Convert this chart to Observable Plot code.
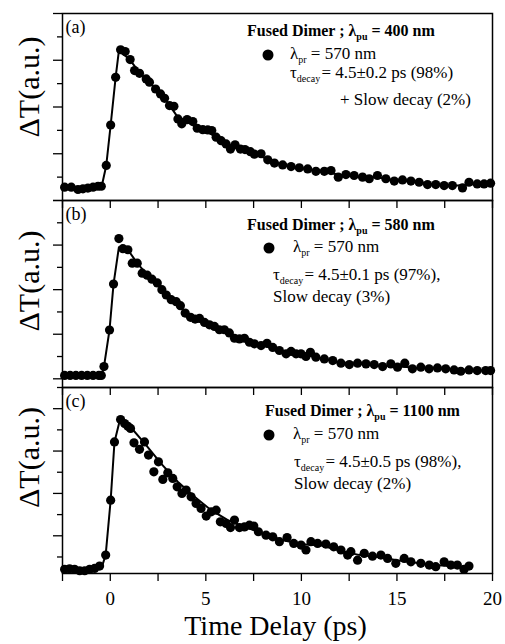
<!DOCTYPE html>
<html><head><meta charset="utf-8">
<script src="https://cdn.jsdelivr.net/npm/d3@7"></script>
<script src="https://cdn.jsdelivr.net/npm/@observablehq/plot@0.6"></script>
<style>
html,body{margin:0;padding:0;background:#fff;}
#chart{width:505px;height:644px;}
#chart svg{display:block;overflow:visible;}
#chart svg text.legend{font-family:"Liberation Serif","Times New Roman",serif;}
</style></head><body><div id="chart"></div>
<script>
// ---------- data ----------
const xTicks = [-2.5, 0, 2.5, 5, 7.5, 10, 12.5, 15, 17.5, 20];
const xTickLabels = ["0", "5", "10", "15", "20"];

const timeA = [-2.39,-2.04,-1.69,-1.43,-1.17,-0.9,-0.64,-0.47,-0.21,0.02,0.28,0.54,0.78,1.04,1.27,1.53,1.88,2.05,2.37,2.63,2.84,3.1,3.33,3.54,3.74,4.02,4.32,4.55,4.84,5.1,5.31,5.54,5.8,6.06,6.29,6.53,6.81,7.05,7.33,7.54,7.89,8.24,8.59,9.02,9.46,9.89,10.33,10.76,11.2,11.55,11.93,12.33,12.76,13.2,13.55,13.98,14.42,14.86,15.29,15.73,16.16,16.6,17.03,17.47,17.9,18.43,18.77,19.2,19.56,19.9];
const valA = [0.57,0.57,0.47,0.5,0.53,0.57,0.61,0.61,1.5,3.23,5.27,6.45,6.37,6.03,5.56,5.44,5.2,5.06,4.77,4.56,4.37,4.06,4.03,3.49,3.28,3.46,3.38,3.09,3.03,3.02,2.99,2.71,2.56,2.42,2.2,2.38,2.2,2.18,2.09,1.98,2.0,1.74,1.6,1.52,1.45,1.4,1.35,1.25,1.25,1.28,1.0,1.11,1.07,1.0,0.93,1.07,0.93,0.83,0.88,0.83,0.78,0.68,0.68,0.64,0.64,0.54,0.78,0.71,0.71,0.74];
const fitTimeA = [-2.5,-0.45,-0.21,0.02,0.28,0.45,1.0,1.5,2.0,2.5,3.0,3.5,4.0,4.5,5.0,5.5,6.0,6.5,7.0,7.5,8.0,9,10,11,12,13,14,15,16,17,18,19,20];
const fitValA = [0.55,0.6,1.5,3.23,5.27,6.4,6.05,5.5,5.1,4.65,4.2,3.6,3.4,3.12,3.0,2.72,2.45,2.3,2.18,2.0,1.85,1.52,1.38,1.25,1.1,1.02,0.98,0.86,0.8,0.68,0.63,0.7,0.73];

const timeB = [-2.39,-2.1,-1.8,-1.5,-1.2,-0.9,-0.6,-0.47,-0.33,-0.04,0.17,0.45,0.66,0.92,1.15,1.41,1.67,1.93,2.18,2.46,2.7,2.93,3.19,3.45,3.67,3.92,4.2,4.44,4.67,4.93,5.19,5.45,5.71,5.97,6.23,6.5,6.76,7.02,7.28,7.54,7.89,8.2,8.5,8.85,9.2,9.46,9.72,9.98,10.24,10.47,10.76,11.2,11.64,12.07,12.51,12.94,13.38,13.81,14.25,14.68,15.03,15.41,15.81,16.25,16.68,17.12,17.55,17.99,18.34,18.77,19.2,19.64,19.9];
const valB = [0.15,0.15,0.15,0.15,0.15,0.15,0.15,0.15,0.55,2.19,4.25,6.29,5.84,5.79,5.19,5.19,4.74,4.65,4.47,4.3,4.0,3.76,3.55,3.46,3.28,2.95,2.76,2.68,2.71,2.53,2.42,2.35,2.2,2.2,2.06,1.82,1.79,1.82,1.64,1.57,1.49,1.59,1.41,1.27,1.12,1.23,1.12,1.12,1.0,1.19,0.97,0.89,0.82,0.7,0.64,0.7,0.67,0.64,0.55,0.67,0.52,0.7,0.45,0.52,0.45,0.49,0.45,0.4,0.34,0.4,0.37,0.37,0.37];
const fitTimeB = [-2.5,-0.45,-0.33,-0.04,0.17,0.45,0.92,1.41,2.0,2.5,3.0,3.5,4.0,4.5,5.0,5.5,6.0,6.5,7.0,7.5,8.0,9,10,11,12,13,14,15,16,17,18,19,20];
const fitValB = [0.15,0.15,0.55,2.19,4.25,5.9,5.79,5.19,4.6,4.25,3.7,3.4,2.9,2.68,2.5,2.33,2.18,1.85,1.8,1.58,1.5,1.2,1.1,0.93,0.72,0.68,0.6,0.56,0.5,0.47,0.42,0.38,0.37];

const timeC = [-2.39,-2.13,-1.87,-1.6,-1.34,-1.08,-0.82,-0.56,-0.24,0.02,0.22,0.54,0.75,0.92,1.06,1.24,1.53,1.79,2.0,2.28,2.52,2.75,3.01,3.27,3.5,3.75,3.97,4.23,4.49,4.75,5.02,5.28,5.54,5.76,6.06,6.29,6.5,6.76,7.02,7.28,7.51,7.75,8.15,8.5,8.85,9.25,9.6,9.98,10.24,10.5,10.85,11.28,11.69,12.07,12.42,12.59,12.94,13.29,13.72,14.16,14.51,14.94,15.38,15.73,16.25,16.69,17.03,17.47,17.82,18.16,18.51,18.77];
const valC = [-1.58,-1.56,-1.58,-1.65,-1.65,-1.58,-1.54,-1.43,-0.91,1.68,4.43,5.49,5.3,5.17,5.07,4.39,4.08,4.43,3.81,3.02,3.49,2.66,2.97,2.71,2.31,2.0,2.16,1.84,1.53,1.29,0.93,1.13,1.21,0.66,0.58,0.39,0.74,0.39,0.42,0.5,0.46,0.19,0.03,-0.05,-0.28,-0.08,-0.36,-0.44,-0.67,-0.28,-0.36,-0.39,-0.52,-0.67,-0.91,-0.75,-1.15,-0.83,-0.96,-0.91,-1.07,-1.3,-1.07,-1.23,-1.3,-1.38,-1.46,-1.23,-1.38,-1.38,-1.59,-1.43];
const fitTimeC = [-2.5,-0.45,-0.24,0.02,0.22,0.5,0.9,1.8,2.66,3.53,4.41,5.28,6.15,7.02,7.89,9,10,11,12,13,14,15,16,17,18.8];
const fitValC = [-1.6,-1.5,-0.9,1.68,4.43,5.45,5.3,4.36,3.41,2.55,1.84,1.21,0.74,0.42,0.14,-0.2,-0.4,-0.45,-0.7,-0.9,-1.0,-1.15,-1.27,-1.38,-1.5];

const panelLetters = ["(a)", "(b)", "(c)"];
const pumpLabels = ["400 nm", "580 nm", "1100 nm"];
const decayLabels = ["4.5±0.2 ps (98%)", "4.5±0.1 ps (97%),", "4.5±0.5 ps (98%),"];
const slowLabels = ["+ Slow decay (2%)", "Slow decay (3%)", "Slow decay (2%)"];

// ---------- drawing ----------
const FONT = "'Liberation Serif', 'Times New Roman', serif";
const zip = (a, b) => a.slice(0, Math.min(a.length, b.length)).map((t, i) => ({t, v: b[i]}));

function panel(o) {
  const pts = zip(o.time, o.val);
  const fit = zip(o.fitT, o.fitV);
  const marks = [
    Plot.line(fit, {x: "t", y: "v", stroke: "black", strokeWidth: 2}),
    Plot.dot(pts, {x: "t", y: "v", r: 4.6, fill: "black"}),
    Plot.axisY({ticks: o.yMajor, tickSize: 9, tickFormat: () => "", label: null, strokeWidth: 1.3}),
    Plot.axisY({ticks: o.yMinor, tickSize: 5, tickFormat: () => "", label: null, strokeWidth: 1.3}),
    Plot.axisX({ticks: xTicks, tickSize: 8, strokeWidth: 1.3, label: null, fontSize: 19, tickPadding: 10,
      tickFormat: o.showX ? (d => (xTickLabels.includes(String(d)) ? String(d) : "")) : () => ""}),
    Plot.frame({stroke: "black", strokeWidth: 1.5}),
    Plot.text([o.letter], {text: d => d, frameAnchor: "top-left", dx: 3, dy: 7, lineAnchor: "top", textAnchor: "start", fontSize: 18}),
    Plot.text(["ΔT(a.u.)"], {text: d => d, frameAnchor: "left", textAnchor: "middle", lineAnchor: "middle", rotate: -90, dx: -33, dy: o.labelDy, fontSize: 30})
  ];
  if (o.showX) marks.push(Plot.text(["Time Delay (ps)"], {text: d => d, frameAnchor: "bottom", dy: 61, dx: -2, fontSize: 28}));
  const svg = Plot.plot({
    width: 505, height: o.height, marginLeft: 62, marginRight: 13, marginTop: o.marginTop, marginBottom: o.marginBottom,
    style: {background: "transparent", overflow: "visible", fontFamily: FONT, color: "black"},
    x: {domain: [-2.5, 20]}, y: {domain: o.yDomain},
    marks
  });
  addLegend(svg, o.legend, o.idx);
  return svg;
}

function rich(svg, x, y, parts, size, weight) {
  const t = d3.select(svg).append("text").attr("class", "legend").attr("x", x).attr("y", y)
    .style("text-anchor", "start").style("font-family", FONT)
    .style("font-size", size + "px").style("font-weight", weight).style("fill", "black");
  let sub = false;
  for (const [txt, kind, dx] of parts) {
    const s = t.append("tspan").text(txt);
    if (kind === "sub") { s.style("font-size", "10px").attr("dy", 4); sub = true; }
    else if (sub) { s.attr("dy", -4); sub = false; }
    if (dx) s.attr("dx", dx);
  }
}

function addLegend(svg, L, i) {
  rich(svg, L.tx, L.ty, [["Fused Dimer ; λ"], ["pu", "sub"], [" = " + pumpLabels[i]]], 16, "bold");
  d3.select(svg).append("circle").attr("cx", L.dx).attr("cy", L.dy).attr("r", 5.5).attr("fill", "black");
  rich(svg, L.l2x, L.l2y, [["λ"], ["pr", "sub"], [" = 570 nm"]], 17, "normal");
  rich(svg, L.l3x, L.l3y, [["τ"], ["decay", "sub"], [" = " + decayLabels[i], null, -3]], 17, "normal");
  rich(svg, L.l4x, L.l4y, [[slowLabels[i]]], 17, "normal");
}

const root = document.getElementById("chart");
root.append(panel({idx: 0, time: timeA, val: valA, fitT: fitTimeA, fitV: fitValA, yDomain: [0, 8], yMajor: [0, 2, 4, 6, 8], yMinor: [1, 3, 5, 7],
  height: 200, marginTop: 13, marginBottom: 0, letter: panelLetters[0], labelDy: -20, showX: false,
  legend: {tx: 247, ty: 36, dx: 268, dy: 55, l2x: 290, l2y: 59, l3x: 290, l3y: 78, l4x: 340, l4y: 105}}));
root.append(panel({idx: 1, time: timeB, val: valB, fitT: fitTimeB, fitV: fitValB, yDomain: [-0.39, 8], yMajor: [0, 2, 4, 6, 8], yMinor: [1, 3, 5, 7],
  height: 187, marginTop: 0, marginBottom: 0, letter: panelLetters[1], labelDy: -13, showX: false,
  legend: {tx: 247, ty: 30, dx: 269, dy: 48, l2x: 293, l2y: 52, l3x: 273, l3y: 80, l4x: 273, l4y: 102}}));
root.append(panel({idx: 2, time: timeC, val: valC, fitT: fitTimeC, fitV: fitValC, yDomain: [-1.78, 7], yMajor: [0, 2, 4, 6], yMinor: [-1, 1, 3, 5, 7],
  height: 257, marginTop: 0, marginBottom: 71, letter: panelLetters[2], labelDy: -23, showX: true,
  legend: {tx: 265, ty: 29, dx: 269, dy: 48, l2x: 293, l2y: 52, l3x: 294, l3y: 80, l4x: 294, l4y: 102}}));
</script></body></html>
